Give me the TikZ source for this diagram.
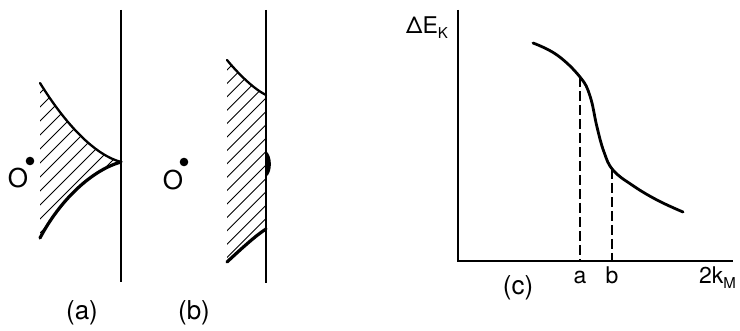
\documentclass[tikz,border=0pt]{standalone}
\usepackage{fontspec}
\setmainfont{TeX Gyre Heros}
\begin{document}
\begin{tikzpicture}[x=1pt,y=-1pt,
  wall/.style={line width=2.1pt},
  bound/.style={line width=2.3pt,line cap=round},
  thickbound/.style={line width=3.2pt,line cap=round},
  hatch/.style={line width=0.9pt},
  axis/.style={line width=2.1pt},
  guide/.style={line width=1.5pt,dash pattern=on 10pt off 4pt},
  lbl/.style={inner sep=0pt,font=\fontsize{26}{30}\selectfont},
  small/.style={inner sep=0pt,font=\fontsize{23}{26}\selectfont}]
\useasboundingbox (0,0) rectangle (740,331);

% ---------- panel (a) ----------
\begin{scope}
  \clip (40,83) .. controls (66,125) and (95,155) .. (121,162)
        .. controls (92,170) and (60,200) .. (40,238) -- cycle;
  \foreach \k in {0,...,14} \draw[hatch] (38,{95+14*\k}) -- ++(130,-130);
\end{scope}
\draw[bound] (40,83) .. controls (66,125) and (95,155) .. (121,162);
\draw[thickbound] (40,238) .. controls (60,200) and (92,170) .. (121,162);
\draw[wall] (121,10) -- (121,282);
\fill (30,161) circle (4.3);
\node[lbl] (Oa) at (18,178) {O};
\node[lbl] (la) at (82,313) {(a)};

% ---------- panel (b) ----------
\begin{scope}
  \clip (227,60) .. controls (236,71) and (252,88) .. (266,95)
        -- (266,229) .. controls (255,236) and (240,250) .. (227,262) -- cycle;
  \foreach \k in {0,...,20} \draw[hatch] (225,{72+13.4*\k}) -- ++(60,-60);
\end{scope}
\draw[bound] (227,60) .. controls (236,71) and (252,88) .. (266,95);
\draw[thickbound] (227,262) .. controls (240,250) and (255,236) .. (266,229);
\fill (266,151) .. controls (272,155) and (273,172) .. (266,177) -- cycle;
\draw[wall] (266,10) -- (266,283);
\fill (184,162) circle (4.3);
\node[lbl] (Ob) at (173,180) {O};
\node[lbl] (lb) at (194,313) {(b)};

% ---------- panel (c) ----------
\coordinate (org) at (458,261);
\coordinate (ytop) at (458,10);
\coordinate (xend) at (733,261);
\draw[axis] (ytop) -- (org) -- (xend);
\draw[line width=2.8pt,line cap=round] plot[smooth,tension=0.7] coordinates
  {(533,43) (557,55) (580,77) (590,96) (597,127) (604,152) (613,170) (632,185) (657,200) (683,212)};
\coordinate (pa) at (580,77);
\coordinate (pb) at (612,169);
\coordinate (xa) at (580,261);
\coordinate (xb) at (612,261);
\draw[guide] (pa) -- (xa);
\draw[guide] (pb) -- (xb);
\node[small,anchor=base] (ta) at (580,284) {a};
\node[small,anchor=base] (tb) at (612,284) {b};
\node[small,anchor=base west] (tk) at (699,284) {2k\raisebox{-0.4ex}{\fontsize{15}{15}\selectfont M}};
\node[small,anchor=base west] (tE) at (406,34) {ΔE\raisebox{-0.4ex}{\fontsize{15}{15}\selectfont K}};
\node[lbl] (lc) at (518,288) {(c)};
\end{tikzpicture}
\end{document}
